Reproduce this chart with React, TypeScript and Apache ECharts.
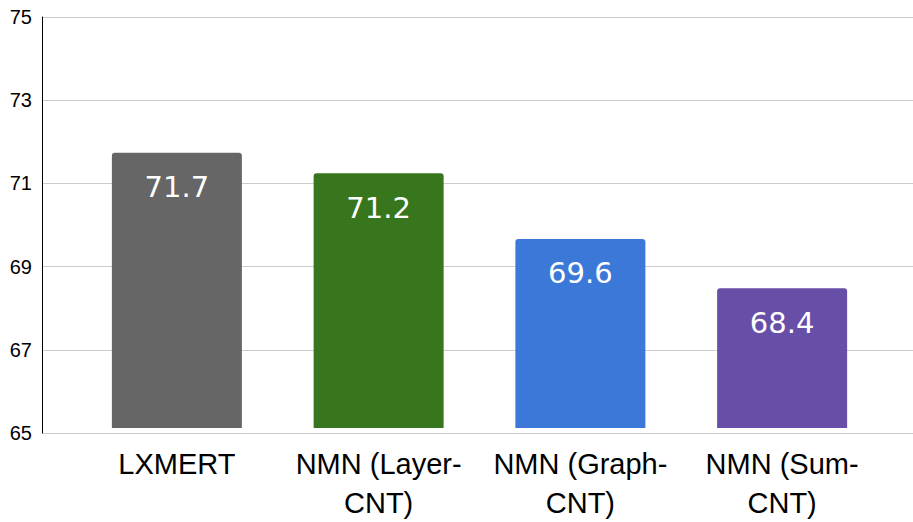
import React, { useEffect, useRef } from "react";
import * as echarts from "echarts";

const categories = ["LXMERT", "NMN (Layer-\nCNT)", "NMN (Graph-\nCNT)", "NMN (Sum-\nCNT)"];
const values = [71.7, 71.2, 69.6, 68.4];
const barColors = ["#666666", "#38761d", "#3c78d8", "#674ea7"];
const yMin = 65;
const yMax = 75;
const yStep = 2;

export default function App() {
  const ref = useRef<HTMLDivElement>(null);

  useEffect(() => {
    if (!ref.current) return;
    const chart = echarts.init(ref.current, undefined, { renderer: "svg" });
    chart.setOption({
      animation: false,
      backgroundColor: "#ffffff",
      grid: [
        { left: 42, right: 0, top: 17, bottom: 89 },
        { left: 76, right: 30, top: 17, bottom: 89 },
      ],
      xAxis: [
        {
          gridIndex: 0,
          type: "value",
          show: false,
          min: 0,
          max: 1,
        },
        {
          gridIndex: 1,
          type: "category",
          data: categories,
          axisLine: { show: false },
          axisTick: { show: false },
          axisLabel: {
            color: "#000000",
            fontFamily: "Liberation Sans, Arial, sans-serif",
            fontSize: 29,
            lineHeight: 39,
            margin: 16,
            interval: 0,
          },
        },
      ],
      yAxis: [
        {
          gridIndex: 0,
          type: "value",
          min: yMin,
          max: yMax,
          interval: yStep,
          axisLine: { show: true, lineStyle: { color: "#000000", width: 1 } },
          axisTick: { show: false },
          splitLine: { show: true, lineStyle: { color: "#cccccc", width: 1 } },
          axisLabel: {
            color: "#000000",
            fontFamily: "Liberation Sans, Arial, sans-serif",
            fontSize: 20,
            margin: 10,
          },
        },
        {
          gridIndex: 1,
          type: "value",
          min: yMin,
          max: yMax,
          interval: yStep,
          show: false,
          splitLine: { show: false },
        },
      ],
      series: [
        {
          type: "bar",
          xAxisIndex: 1,
          yAxisIndex: 1,
          barWidth: 130,
          data: values.map((v, i) => ({
            value: v,
            itemStyle: { color: barColors[i], borderRadius: [3, 3, 0, 0] },
          })),
          label: {
            show: true,
            position: "insideTop",
            distance: 20,
            color: "#ffffff",
            fontFamily: "DejaVu Sans, Verdana, sans-serif",
            fontSize: 29,
            formatter: (p: any) => p.value.toFixed(1),
          },
        },
      ],
    });
    return () => chart.dispose();
  }, []);

  return (
    <div
      ref={ref}
      style={{ position: "absolute", left: 0, top: 0, width: 913, height: 522 }}
    />
  );
}
